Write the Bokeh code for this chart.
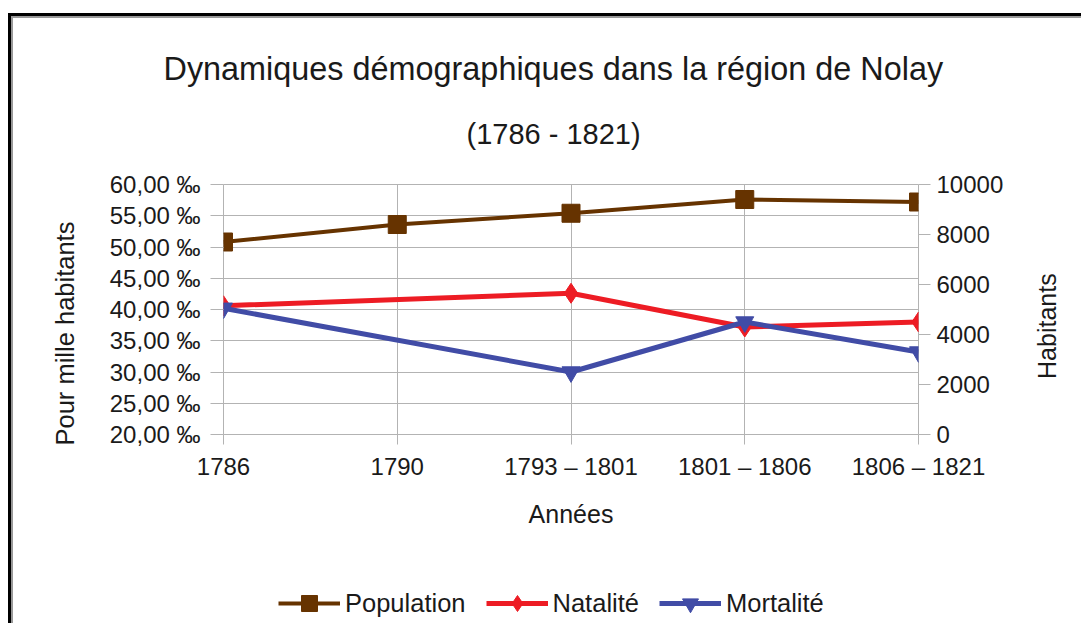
import math
from bokeh.plotting import figure
from bokeh.layouts import column
from bokeh.models import (LinearAxis, Range1d, FixedTicker, Title, Legend,
                          LegendItem)
from bokeh.embed import file_html
from bokeh.resources import INLINE

# ---- data ----
categories = ["1786", "1790", "1793 – 1801", "1801 – 1806", "1806 – 1821"]
population = [7700, 8400, 8850, 9400, 9300]          # Habitants (right axis)
natalite = [40.6, None, 42.6, 37.2, 38.0]             # ‰ (left axis)
mortalite = [40.2, None, 30.0, 38.0, 33.2]            # ‰ (left axis)
left_ticks = [20, 25, 30, 35, 40, 45, 50, 55, 60]
left_tick_labels = ["20,00 ‰", "25,00 ‰", "30,00 ‰", "35,00 ‰", "40,00 ‰",
                    "45,00 ‰", "50,00 ‰", "55,00 ‰", "60,00 ‰"]
right_ticks = [0, 2000, 4000, 6000, 8000, 10000]
series_names = ["Population", "Natalité", "Mortalité"]

FONT = "Liberation Sans"
GRID = "#b3b3b3"
TXT = "#1a1a1a"
BROWN, RED, BLUE = "#663300", "#ed1c24", "#414ca6"
series_styles = [(BROWN, "square", 4, 18), (RED, "diamond", 5, 20),
                 (BLUE, "inverted_triangle", 5, 18)]

xs = list(range(len(categories)))


def pts(vals):
    px = [x for x, v in zip(xs, vals) if v is not None]
    py = [v for v in vals if v is not None]
    return px, py


# ---------------- main chart ----------------
p = figure(frame_width=695, frame_height=250, output_backend="svg",
           toolbar_location=None,
           x_range=Range1d(xs[0], xs[-1]), y_range=Range1d(left_ticks[0], left_ticks[-1]),
           min_border_left=223, min_border_right=163, min_border_top=184,
           min_border_bottom=126)
p.extra_y_ranges = {"pop": Range1d(right_ticks[0], right_ticks[-1])}
p.outline_line_color = GRID
p.background_fill_color = "white"
p.border_fill_alpha = 0

# titles (inner first, outer last)
p.add_layout(Title(text="(1786 - 1821)", align="left", text_font=FONT,
                   text_font_size="29px", text_font_style="normal",
                   text_color=TXT, standoff=70, offset=243), "above")
title_kw = dict(text="Dynamiques démographiques dans la région de Nolay",
                align="left", text_font=FONT, text_font_size="32.4px",
                text_font_style="normal", text_color=TXT, offset=-60)
try:
    main_title = Title(standoff=-12, **title_kw)
except ValueError:
    main_title = Title(standoff=0, **title_kw)
p.add_layout(main_title, "above")

# axes
xa = p.xaxis[0]
xa.ticker = FixedTicker(ticks=xs)
xa.major_label_overrides = {x: c for x, c in zip(xs, categories)}
xa.axis_label = "Années"

ya = p.yaxis[0]
ya.ticker = FixedTicker(ticks=left_ticks)
ya.major_label_overrides = {t: l for t, l in zip(left_ticks, left_tick_labels)}

ra = LinearAxis(y_range_name="pop", ticker=FixedTicker(ticks=right_ticks),
                axis_label="Habitants")
p.add_layout(ra, "right")

for ax in (xa, ya, ra):
    ax.axis_line_color = None
    ax.major_tick_line_color = GRID
    ax.major_tick_in = 0
    ax.minor_tick_line_color = None
    ax.major_label_text_font = FONT
    ax.major_label_text_font_size = "24px"
    ax.major_label_text_color = TXT
    ax.axis_label_text_font = FONT
    ax.axis_label_text_font_size = "25px"
    ax.axis_label_text_font_style = "normal"
    ax.axis_label_text_color = TXT

xa.major_tick_out = 10
xa.major_label_standoff = 8
xa.axis_label_standoff = 17
ya.major_tick_out = 13
ya.major_label_standoff = 10
ra.major_tick_out = 12
ra.major_label_standoff = 6
ra.axis_label_standoff = 41
ra.axis_label_orientation = math.pi / 2   # read bottom-to-top, as on the left
try:
    ra.axis_label_align = "start"
    ra.axis_label = "\u00a0" * 8 + "Habitants"
except (AttributeError, ValueError):
    pass

# left axis title as a side title so that it can sit slightly low, as in the original
p.add_layout(Title(text="Pour mille habitants", align="left", text_font=FONT,
                   text_font_size="25.5px", text_font_style="normal",
                   text_color=TXT, standoff=56, offset=-11), "left")

p.xgrid.ticker = FixedTicker(ticks=xs)
p.ygrid.ticker = FixedTicker(ticks=left_ticks)
p.xgrid.grid_line_color = GRID
p.ygrid.grid_line_color = GRID

series_values = [population, natalite, mortalite]
for vals, (col, mk, lw, sz) in zip(series_values, series_styles):
    px, py = pts(vals)
    rng = "pop" if vals is population else "default"
    p.line(px, py, y_range_name=rng, line_color=col, line_width=lw)
    p.scatter(px, py, y_range_name=rng, marker=mk, size=sz,
              fill_color=col, line_color=col)

# ---------------- legend strip below the chart ----------------
# (the same series are drawn here outside the visible range, only to feed the legend)
q = figure(width=1081, height=63, output_backend="svg", toolbar_location=None,
           x_range=Range1d(-100, -99), y_range=Range1d(-100, -99),
           x_axis_type=None, y_axis_type=None,
           min_border_left=0, min_border_right=0, min_border_top=0,
           min_border_bottom=0)
q.grid.visible = False
q.outline_line_color = None
q.background_fill_alpha = 0
q.border_fill_alpha = 0

items = []
for name, vals, (col, mk, lw, sz) in zip(series_names, series_values, series_styles):
    px, py = pts(vals)
    lr = q.line(px, py, line_color=col, line_width=lw)
    sr = q.scatter(px, py, marker=mk, size=sz, fill_color=col, line_color=col)
    items.append(LegendItem(label=name, renderers=[lr, sr]))

legend = Legend(items=items, orientation="horizontal", location=(55, 0),
                padding=0, margin=0, spacing=20, label_standoff=5,
                glyph_width=62, glyph_height=40, label_height=24,
                label_text_font=FONT, label_text_font_size="25.5px",
                label_text_color=TXT, border_line_color=None,
                background_fill_alpha=0)
q.add_layout(legend)

layout = column(p, q, spacing=0)
# outer frame of the chart (black edge with soft grey shade)
layout.styles = {
    "background":
        "linear-gradient(#000,#000) 8px 13px / 3px 3000px no-repeat,"
        "linear-gradient(#000,#000) 8px 13px / 3000px 3px no-repeat,"
        "linear-gradient(#999,#999) 11px 16px / 2px 3000px no-repeat,"
        "linear-gradient(#999,#999) 11px 16px / 3000px 2px no-repeat,"
        "white"
}

open("out.html", "w").write(file_html(layout, INLINE))
